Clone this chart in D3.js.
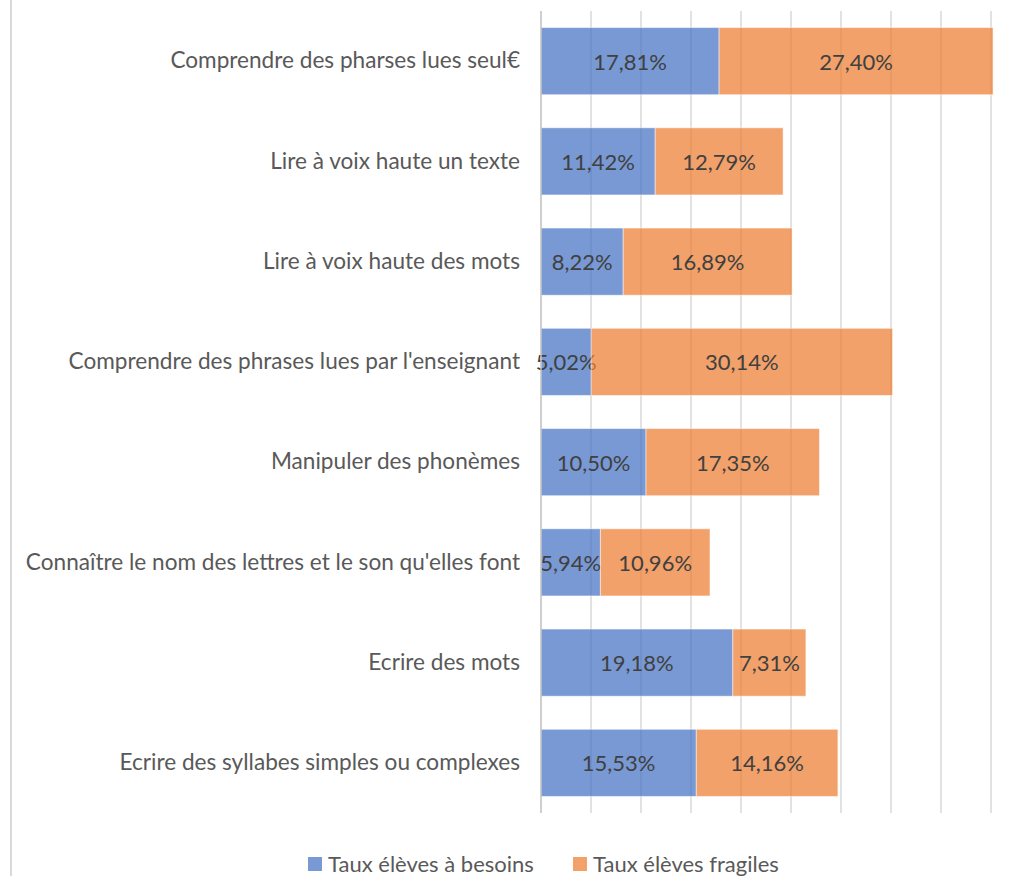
<!DOCTYPE html>
<html><head><meta charset="utf-8">
<script src="https://cdn.jsdelivr.net/npm/d3@7/dist/d3.min.js"></script>
<style>body{margin:0;background:#fff;overflow:hidden}</style>
</head><body>
<svg id="c" width="1028" height="876"></svg>
<script>
const categories = [
  "Comprendre des pharses lues seul€",
  "Lire à voix haute un texte",
  "Lire à voix haute des mots",
  "Comprendre des phrases lues par l'enseignant",
  "Manipuler des phonèmes",
  "Connaître le nom des lettres et le son qu'elles font",
  "Ecrire des mots",
  "Ecrire des syllabes simples ou complexes"
];
const besoins  = [17.81, 11.42, 8.22, 5.02, 10.50, 5.94, 19.18, 15.53];
const fragiles = [27.40, 12.79, 16.89, 30.14, 17.35, 10.96, 7.31, 14.16];
const seriesNames = ["Taux élèves à besoins", "Taux élèves fragiles"];
const gridTicks = [0, 5, 10, 15, 20, 25, 30, 35, 40, 45];

const FONT = "Lato, 'Open Sans', sans-serif";
const svg = d3.select("#c");
const colors = ["#4472C4", "#ED7D31"];

// chart border (left edge visible)
svg.append("line").attr("x1", 11).attr("x2", 11).attr("y1", 0).attr("y2", 876)
  .attr("stroke", "#d9d9d9").attr("stroke-width", 2);

const x = d3.scaleLinear().domain([0, 45]).range([541, 991]);
const y = d3.scaleBand().domain(categories).range([11, 813]).paddingInner(0.33).paddingOuter(0.165);

// gridlines
svg.append("g").selectAll("line").data(gridTicks.slice(1)).join("line")
  .attr("x1", d => x(d)).attr("x2", d => x(d)).attr("y1", 11).attr("y2", 813)
  .attr("stroke", "#d9d9d9").attr("stroke-width", 1.5);

const fmt = v => v.toFixed(2).replace(".", ",") + "%";
const stackData = categories.map((c, i) => ({cat: c, b: besoins[i], f: fragiles[i]}));
const stack = d3.stack().keys(["b", "f"])(stackData);

stack.forEach((s, si) => {
  const g = svg.append("g");
  g.selectAll("rect").data(s).join("rect")
    .attr("x", d => x(d[0])).attr("width", d => x(d[1]) - x(d[0]))
    .attr("y", d => y(d.data.cat)).attr("height", y.bandwidth())
    .attr("fill", colors[si]).attr("fill-opacity", 0.72)
    .attr("stroke", "#fff").attr("stroke-opacity", 0.5).attr("stroke-width", 1);
  g.selectAll("text").data(s).join("text")
    .attr("x", d => (x(d[0]) + x(d[1])) / 2)
    .attr("y", d => y(d.data.cat) + y.bandwidth() / 2)
    .attr("text-anchor", "middle").attr("dominant-baseline", "central")
    .attr("font-family", FONT).attr("font-size", 22).attr("fill", "#404040")
    .text(d => fmt(d[1] - d[0]));
});

// axis line
svg.append("g").attr("transform", `translate(${x(0)},0)`)
  .call(d3.axisLeft(y).tickSize(0).tickPadding(21))
  .call(g => g.select(".domain").attr("stroke", "#bfbfbf").attr("stroke-width", 1.5).attr("d", "M0,11V813"))
  .call(g => g.selectAll("text").attr("font-family", FONT).attr("font-size", 22.6).attr("fill", "#595959"));

// legend
const leg = svg.append("g");
const legX = [308, 573];
seriesNames.forEach((n, i) => {
  leg.append("rect").attr("x", legX[i]).attr("y", 857).attr("width", 14).attr("height", 14)
    .attr("fill", colors[i]).attr("fill-opacity", 0.72);
  leg.append("text").attr("x", legX[i] + 20).attr("y", 863).attr("dominant-baseline", "central")
    .attr("font-family", FONT).attr("font-size", 22).attr("fill", "#595959").text(n);
});
</script>
</body></html>
